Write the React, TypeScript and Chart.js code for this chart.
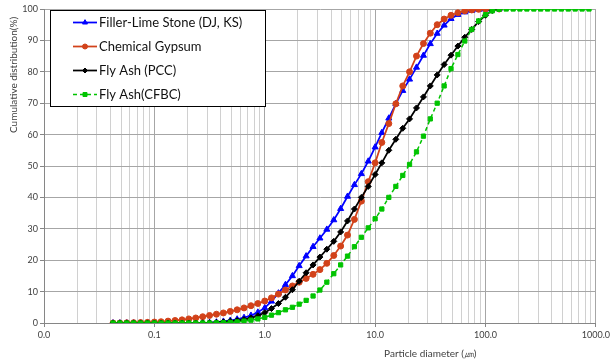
import React, { useEffect, useRef } from "react";
import { Chart, registerables } from "chart.js";
Chart.register(...registerables);

// Particle diameters (µm) of the measurement bins
const diameters = [
  0.0422, 0.0487, 0.0562, 0.0649, 0.075, 0.0866,
  0.1, 0.115, 0.133, 0.154, 0.178, 0.205, 0.237, 0.274, 0.316, 0.365, 0.422, 0.487, 0.562, 0.649, 0.75, 0.866,
  1.0, 1.15, 1.33, 1.54, 1.78, 2.05, 2.37, 2.74, 3.16, 3.65, 4.22, 4.87, 5.62, 6.49, 7.5, 8.66,
  10, 11.5, 13.3, 15.4, 17.8, 20.5, 23.7, 27.4, 31.6, 36.5, 42.2, 48.7, 56.2, 64.9, 75, 86.6,
  100, 115, 133, 154, 178, 205, 237, 274, 316, 365, 422, 487, 562, 649, 750, 866,
];

const fillerLime = [
  0, 0, 0, 0, 0, 0, 0, 0, 0, 0, 0, 0, 0,
  0.05, 0.1, 0.25, 0.5, 0.8, 1.2, 1.7, 2.4, 3.4, 4.8, 6.9, 9.5, 12.2, 15.0, 18.2, 21.3, 24.3, 27.0,
  29.8, 32.8, 36.4, 40.3, 44.0, 47.5, 51.5, 56.0, 60.6, 65.2, 69.8, 74.0, 77.6, 81.4, 85.2, 88.9,
  92.2, 94.8, 96.9, 98.2, 99.0, 99.5, 99.8, 99.9, 100, 100,
];

const gypsum = [
  0, 0, 0.05, 0.1, 0.15, 0.2, 0.3, 0.4, 0.6, 0.8, 1.0, 1.3, 1.6, 2.0, 2.4, 2.8, 3.2, 3.7, 4.2, 4.8,
  5.5, 6.2, 7.0, 8.0, 9.2, 10.5, 11.8, 13.0, 14.2, 15.5, 17.0, 19.0, 21.5, 24.5, 28.0, 33.0, 38.8,
  45.0, 51.0, 57.5, 63.5, 69.8, 75.5, 80.0, 85.0, 89.0, 92.3, 95.0, 96.8, 98.0, 98.8, 99.4, 99.7,
  99.9, 100, 100, 100,
];

const flyAshPCC = [
  0, 0, 0, 0, 0, 0, 0, 0, 0, 0, 0, 0, 0,
  0.05, 0.1, 0.2, 0.35, 0.55, 0.8, 1.1, 1.6, 2.3, 3.3, 4.6, 6.2, 8.2, 10.6, 13.3, 16.0, 18.5, 21.0,
  23.5, 26.0, 29.0, 32.5, 36.3, 40.0, 43.5, 47.3, 51.0, 55.0, 58.5, 62.0, 65.0, 68.5, 72.0, 75.5,
  79.0, 82.3, 85.3, 88.2, 91.0, 93.5, 96.0, 98.0, 99.5, 100,
];

const flyAshCFBC = [
  0, 0, 0, 0, 0, 0, 0, 0, 0, 0, 0, 0, 0, 0, 0,
  0.05, 0.1, 0.2, 0.35, 0.6, 0.9, 1.3, 1.8, 2.5, 3.3, 4.2, 5.0, 6.0, 7.2, 8.6, 10.5, 13.0, 15.7,
  18.5, 21.3, 24.3, 27.3, 30.3, 33.2, 36.3, 40.0, 43.5, 47.0, 50.5, 54.5, 59.5, 65.0, 70.0, 75.5,
  81.0, 85.5, 89.8, 93.5, 96.2, 98.2, 99.4, 99.9,
  100, 100, 100, 100, 100, 100, 100, 100, 100, 100, 100, 100, 100,
];

const seriesNames = ["Filler-Lime Stone (DJ, KS)", "Chemical Gypsum", "Fly Ash (PCC)", "Fly Ash(CFBC)"];
const seriesColors = ["#0000FF", "#D2421A", "#000000", "#00C400"];
const seriesMarkers = ["triangle", "circle", "rectRot", "rect"];
const xTitle = "Particle diameter (㎛)";
const yTitle = "Cumulative distribution(%)";
const xMin = 0.01;
const xMax = 1000;
const yTicks = [0, 10, 20, 30, 40, 50, 60, 70, 80, 90, 100];

const FONT = "Lato, 'Open Sans', 'DejaVu Sans', sans-serif";

const isDecade = (v: number) => Math.abs(Math.log10(v) - Math.round(Math.log10(v))) < 1e-6;

function drawMarker(ctx: CanvasRenderingContext2D, style: string, x: number, y: number, r: number, color: string) {
  ctx.fillStyle = color;
  ctx.strokeStyle = color;
  ctx.lineWidth = 1;
  ctx.setLineDash([]);
  ctx.beginPath();
  if (style === "triangle") {
    ctx.moveTo(x, y - r * 1.15);
    ctx.lineTo(x + r, y + r * 0.6);
    ctx.lineTo(x - r, y + r * 0.6);
    ctx.closePath();
  } else if (style === "circle") {
    ctx.arc(x, y, r, 0, Math.PI * 2);
  } else if (style === "rectRot") {
    ctx.moveTo(x, y - r);
    ctx.lineTo(x + r, y);
    ctx.lineTo(x, y + r);
    ctx.lineTo(x - r, y);
    ctx.closePath();
  } else {
    ctx.rect(x - r * 0.8, y - r * 0.8, 1.6 * r, 1.6 * r);
  }
  ctx.fill();
  ctx.stroke();
}

const overlayPlugin = {
  id: "overlay",
  afterDraw(chart: any) {
    const { ctx, chartArea: a } = chart;
    ctx.save();
    // axis titles
    ctx.fillStyle = "#404040";
    ctx.font = `10px ${FONT}`;
    ctx.textAlign = "center";
    ctx.textBaseline = "middle";
    ctx.fillText(xTitle, a.left + (a.right - a.left) * 0.7, chart.height - 8);
    ctx.save();
    ctx.translate(14, a.top + (a.bottom - a.top) * 0.21);
    ctx.rotate(-Math.PI / 2);
    ctx.fillText(yTitle, 0, 0);
    ctx.restore();

    // legend box
    const bx = a.left + 6;
    const by = a.top + 1;
    const bw = 215;
    const bh = 96;
    ctx.fillStyle = "#FFFFFF";
    ctx.fillRect(bx, by, bw, bh);
    ctx.strokeStyle = "#000000";
    ctx.lineWidth = 1;
    ctx.strokeRect(Math.round(bx) + 0.5, Math.round(by) + 0.5, bw, bh);
    chart.data.datasets.forEach((ds: any, i: number) => {
      const cy = by + 12.5 + i * 24;
      ctx.strokeStyle = ds.borderColor;
      ctx.lineWidth = ds.borderWidth;
      ctx.setLineDash(ds.borderDash || []);
      ctx.beginPath();
      ctx.moveTo(bx + 23, cy);
      ctx.lineTo(bx + 47, cy);
      ctx.stroke();
      drawMarker(ctx, ds.pointStyle, bx + 35, cy, 2.5, ds.borderColor);
      ctx.fillStyle = "#111111";
      ctx.font = `13px ${FONT}`;
      ctx.textAlign = "left";
      ctx.textBaseline = "middle";
      ctx.fillText(ds.label, bx + 49, cy + 0.5);
    });
    ctx.restore();
  },
};

export default function App() {
  const ref = useRef<HTMLCanvasElement | null>(null);

  useEffect(() => {
    document.body.style.margin = "0";
    const canvas = ref.current;
    if (!canvas) return;
    const allSeries = [fillerLime, gypsum, flyAshPCC, flyAshCFBC];
    const orders = [4, 3, 2, 1];
    const radii = [3.5, 3, 3, 3];
    const datasets = allSeries.map((vals, i) => ({
      label: seriesNames[i],
      data: vals.map((y, k) => ({ x: diameters[k], y })),
      borderColor: seriesColors[i],
      backgroundColor: seriesColors[i],
      pointBackgroundColor: seriesColors[i],
      pointBorderColor: seriesColors[i],
      borderWidth: i === 3 ? 1.5 : 1.75,
      borderDash: i === 3 ? [4, 3] : [],
      pointStyle: seriesMarkers[i],
      pointRadius: radii[i],
      pointBorderWidth: 1,
      tension: 0,
      order: orders[i],
      fill: false,
    }));

    const gridValues: number[] = [];
    for (let e = -2; e < 3; e++) {
      for (let s = 1; s < 10; s++) gridValues.push(Number((s * Math.pow(10, e)).toPrecision(3)));
    }
    gridValues.push(xMax);

    const chart = new Chart(canvas, {
      type: "line",
      data: { datasets: datasets as any },
      plugins: [overlayPlugin],
      options: {
        responsive: false,
        animation: false,
        events: [],
        layout: { padding: { left: 0, right: 16, top: 9, bottom: 0 } },
        plugins: { legend: { display: false }, tooltip: { enabled: false } },
        scales: {
          x: {
            type: "logarithmic",
            min: xMin,
            max: xMax,
            afterBuildTicks: (scale: any) => {
              scale.ticks = gridValues.map((v) => ({ value: v }));
            },
            afterFit: (scale: any) => {
              scale.height = 39;
            },
            ticks: {
              autoSkip: false,
              maxRotation: 0,
              padding: 3,
              color: "#404040",
              font: { family: FONT, size: 9 },
              callback: (v: any) => (isDecade(Number(v)) ? Number(v).toFixed(1) : ""),
            },
            grid: {
              color: (c: any) => (c.tick && isDecade(c.tick.value) ? "#A6A6A6" : "#D0D0D0"),
              tickColor: (c: any) => (c.tick && isDecade(c.tick.value) ? "#868686" : "rgba(0,0,0,0)"),
              tickLength: 4,
              lineWidth: 1,
            },
            border: { color: "#868686", width: 1 },
          },
          y: {
            type: "linear",
            min: 0,
            max: 100,
            afterBuildTicks: (scale: any) => {
              scale.ticks = yTicks.map((v) => ({ value: v }));
            },
            afterFit: (scale: any) => {
              scale.width = 44;
            },
            ticks: {
              padding: 2,
              color: "#404040",
              font: { family: FONT, size: 9 },
            },
            grid: {
              color: "#A6A6A6",
              tickColor: "#868686",
              tickLength: 4,
              lineWidth: 1,
            },
            border: { color: "#868686", width: 1 },
          },
        },
      } as any,
    });
    return () => chart.destroy();
  }, []);

  return (
    <div style={{ width: 613, height: 362 }}>
      <canvas ref={ref} width={613} height={362} style={{ display: "block" }} />
    </div>
  );
}
